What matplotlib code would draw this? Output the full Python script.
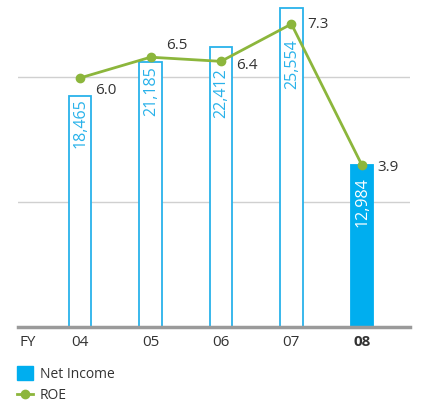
import matplotlib.pyplot as plt
from matplotlib.patches import Patch
from matplotlib.lines import Line2D

plt.rcParams['font.family'] = ['Open Sans', 'DejaVu Sans']

# data
years = ['04', '05', '06', '07', '08']
net_income = [18465, 21185, 22412, 25554, 12984]
roe = [6.0, 6.5, 6.4, 7.3, 3.9]
ni_labels = ['18,465', '21,185', '22,412', '25,554', '12,984']
roe_labels = ['6.0', '6.5', '6.4', '7.3', '3.9']

blue = '#00aeef'
edge = '#29b2ea'
green = '#8cb63c'
dark = '#333333'

fig = plt.figure(figsize=(4.3, 4.05), dpi=100)
ax = fig.add_axes([0.042, 0.193, 0.911, 0.802])
ax2 = ax.twinx()

x = list(range(len(years)))
# how far below the bar top each value label starts (keeps clear of the ROE dots)
label_drop = [150, 300, 1750, 2550, 1050]
for i, v in enumerate(net_income):
    last = i == len(years) - 1
    ax.bar(i, v, width=0.32, color=blue if last else 'white',
           edgecolor=blue if last else edge, linewidth=1.3, zorder=2)
    ax.text(i + 0.01, v - label_drop[i], ni_labels[i], rotation=90, ha='center', va='top',
            fontsize=11.5, color='white' if last else edge, zorder=3)

ax.set_ylim(0, 26000)
ax.set_xlim(-0.88, 4.68)
for g in [10000, 20000]:
    ax.axhline(g, color='#d0d0d0', lw=1, zorder=0)
ax.axhline(0, color='#9a9a9a', lw=2.5, zorder=4, clip_on=False)

ax2.plot(x, roe, color=green, lw=2, marker='o', markersize=6, zorder=5)
ax2.set_ylim(0, 7.83)
offsets = [(0.22, -0.3), (0.22, 0.28), (0.22, -0.1), (0.22, 0.0), (0.22, -0.05)]
for i, v in enumerate(roe):
    dx, dy = offsets[i]
    ax2.text(i + dx, v + dy, roe_labels[i], ha='left', va='center',
             fontsize=11, color=dark)

for a in (ax, ax2):
    for s in a.spines.values():
        s.set_visible(False)
    a.set_yticks([])
ax.set_xticks(x)
ax.set_xticklabels(years, fontsize=11, color=dark)
ax.get_xticklabels()[-1].set_fontweight('bold')
ax.tick_params(axis='x', length=0, pad=6)
ax.annotate('FY', xy=(-0.86, 0), xycoords=('data', 'axes fraction'),
            xytext=(0, -6), textcoords='offset points', ha='left', va='top',
            fontsize=11, color=dark)

handles = [Patch(facecolor=blue, edgecolor=blue),
           Line2D([0], [0], color=green, lw=2, marker='o', markersize=6)]
fig.legend(handles, ['Net Income', 'ROE'], loc='upper left',
           bbox_to_anchor=(0.026, 0.11), frameon=False, fontsize=10,
           handlelength=1.15, handleheight=1.15, handletextpad=0.5, labelspacing=0.45,
           labelcolor=dark, borderaxespad=0)

fig.savefig('out.png', dpi=100)
